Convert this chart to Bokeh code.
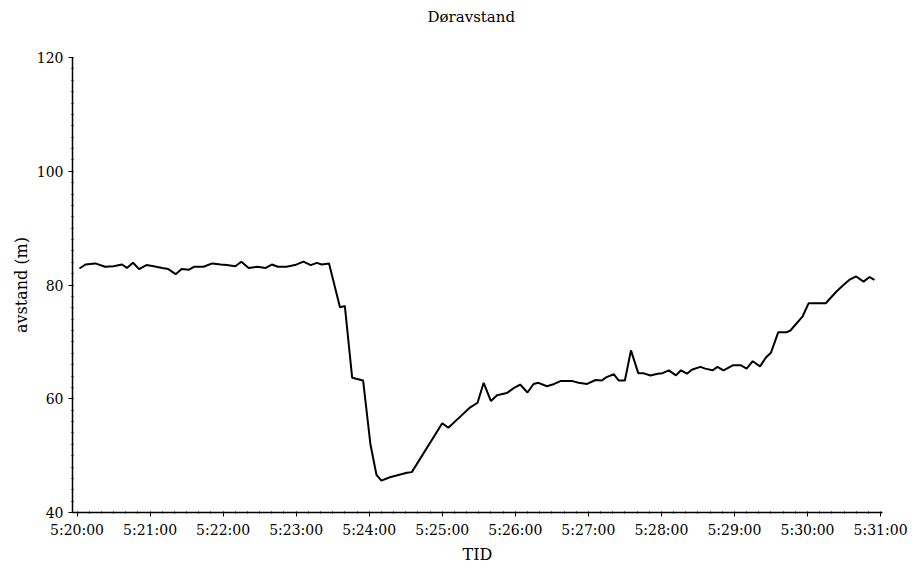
from bokeh.plotting import figure
from bokeh.models import FixedTicker, Range1d, Title
from bokeh.embed import file_html
from bokeh.resources import INLINE

# time offsets (seconds after 5:20:00) and distance values (m)
t_sec = [2, 7, 15, 23, 30, 37, 41, 46, 51, 57, 63, 70, 75, 81, 86, 92, 96, 104,
         111, 118, 123, 130, 135, 141, 148, 155, 160, 165, 172, 179, 186, 192,
         197, 201, 207, 216, 220, 226, 235, 241, 246, 250, 257, 271, 275, 300,
         305, 315, 323, 329, 334, 340, 345, 353, 359, 364, 370, 375, 379, 386,
         392, 397, 407, 412, 419, 426, 431, 435, 441, 445, 450, 455, 461, 465,
         471, 477, 481, 486, 492, 496, 501, 505, 512, 516, 522, 526, 531, 539,
         545, 550, 555, 561, 566, 570, 576, 583, 586, 596, 601, 615, 624, 630,
         635, 640, 646, 651, 655]
avstand = [82.9, 83.6, 83.8, 83.2, 83.3, 83.6, 83.0, 83.9, 82.8, 83.5, 83.3, 83.0,
           82.8, 81.9, 82.8, 82.7, 83.2, 83.2, 83.8, 83.6, 83.5, 83.3, 84.1, 83.0,
           83.2, 83.0, 83.6, 83.2, 83.2, 83.5, 84.1, 83.5, 83.9, 83.6, 83.8, 76.1,
           76.3, 63.7, 63.2, 52.0, 46.6, 45.6, 46.2, 47.0, 47.1, 55.7, 54.9, 56.9,
           58.5, 59.3, 62.8, 59.6, 60.6, 61.0, 61.9, 62.5, 61.1, 62.6, 62.8, 62.2,
           62.6, 63.1, 63.1, 62.8, 62.6, 63.3, 63.2, 63.8, 64.3, 63.2, 63.2, 68.5,
           64.5, 64.5, 64.1, 64.4, 64.5, 65.0, 64.1, 65.0, 64.4, 65.1, 65.6, 65.3,
           65.0, 65.6, 65.0, 65.9, 65.9, 65.3, 66.6, 65.7, 67.3, 68.1, 71.7, 71.7,
           72.0, 74.5, 76.8, 76.8, 78.9, 80.1, 81.0, 81.5, 80.6, 81.4, 80.9]

x_tick_labels = ["5:20:00", "5:21:00", "5:22:00", "5:23:00", "5:24:00", "5:25:00",
                 "5:26:00", "5:27:00", "5:28:00", "5:29:00", "5:30:00", "5:31:00"]
x_tick_pos = [60 * i for i in range(len(x_tick_labels))]
y_ticks = [40, 60, 80, 100, 120]

FONT = "DejaVu Serif"

p = figure(width=913, height=570, output_backend="svg", toolbar_location=None,
           x_range=Range1d(-3.7, 661.6), y_range=Range1d(40, 120),
           min_border_left=72, min_border_right=31, min_border_top=57,
           min_border_bottom=58)

p.title = Title(text="Døravstand", align="left", text_font=FONT,
                text_font_size="15px", text_font_style="normal",
                text_color="black", offset=355,
                padding=dict(left=0, right=0, top=0, bottom=27))

p.line(t_sec, avstand, line_color="black", line_width=2)

p.xgrid.visible = False
p.ygrid.visible = False
p.outline_line_color = None
p.background_fill_color = "white"
p.border_fill_color = "white"

xa = p.xaxis[0]
xa.ticker = FixedTicker(ticks=x_tick_pos,
                        minor_ticks=list(range(0, 661, 10)))
xa.major_label_overrides = {pos: lab for pos, lab in zip(x_tick_pos, x_tick_labels)}
xa.axis_label = "TID"

ya = p.yaxis[0]
ya.ticker = FixedTicker(ticks=y_ticks, minor_ticks=list(range(40, 121, 2)))
ya.axis_label = "avstand (m)"

for ax in (xa, ya):
    ax.axis_line_color = "black"
    ax.axis_line_width = 1.5
    ax.major_tick_line_color = "black"
    ax.major_tick_out = 4
    ax.major_tick_in = 0
    ax.minor_tick_line_color = "black"
    ax.minor_tick_out = 1
    ax.minor_tick_in = 1
    ax.major_label_text_font = FONT
    ax.major_label_text_font_size = "14px"
    ax.major_label_text_color = "black"
    ax.axis_label_text_font = FONT
    ax.axis_label_text_font_size = "16px"
    ax.axis_label_text_font_style = "normal"
    ax.axis_label_text_color = "black"

xa.major_label_standoff = 5
xa.axis_label_standoff = 4
ya.major_label_standoff = 5
ya.axis_label_standoff = 3

open("out.html", "w").write(file_html(p, INLINE))
